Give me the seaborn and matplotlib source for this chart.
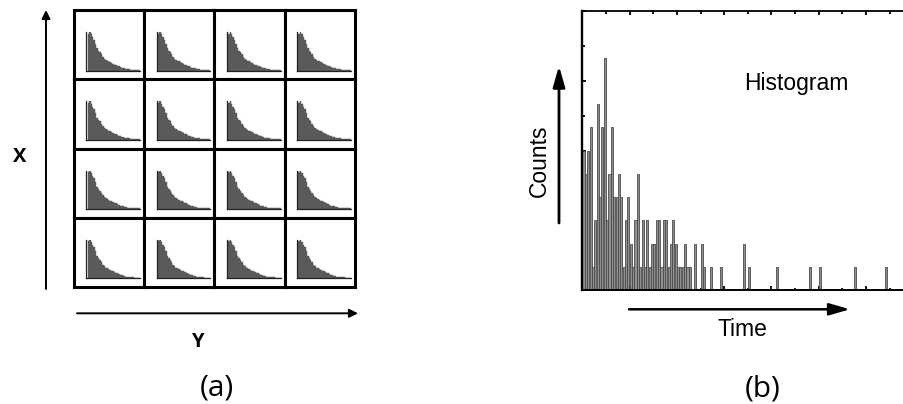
import numpy as np
import pandas as pd
import matplotlib
matplotlib.use("Agg")
import matplotlib.pyplot as plt
from matplotlib.ticker import MultipleLocator, NullFormatter
import seaborn as sns

# ---- data -------------------------------------------------------------
# photon arrival histogram: time-bin index and number of counts in it
time_bins = list(range(46)) + [47, 50, 51, 54, 58, 68, 70, 82, 96, 100, 115, 128]
counts = [6, 5, 6, 7, 1, 3, 8, 4, 7, 10, 3, 5, 7, 4, 4, 5, 4, 1, 3, 4, 2, 1, 3, 5,
          1, 3, 1, 3, 1, 2, 2, 3, 3, 1, 3, 3, 1, 2, 3, 2, 1, 1, 1, 2, 1, 1,
          2, 2, 1, 1, 1, 2, 1, 1, 1, 1, 1, 1]

# decay profile shown in every pixel of the X-Y scan
pixel_counts = [96, 100, 94, 86, 80, 70, 58, 52, 48, 42, 36, 31, 28, 26, 24, 22,
                20, 18, 16, 15, 13, 11, 9, 8, 7, 6, 5, 4, 4, 3, 3, 3, 2, 2, 2, 2]

grid_rows = 4
grid_cols = 4

panel_labels = ["(a)", "(b)"]

# ---- figure -----------------------------------------------------------
sns.set_style("white")
plt.rcParams["text.color"] = "black"
W, H = 904, 404
fig = plt.figure(figsize=(W / 100, H / 100), dpi=100)
fig.patch.set_facecolor("white")


def box(x0, y0, x1, y1):
    """Figure-fraction rect from a pixel box measured from the top-left."""
    return [x0 / W, 1 - y1 / H, (x1 - x0) / W, (y1 - y0) / H]


# ---- (a) grid of pixel histograms ------------------------------------
gx0, gx1, gy0, gy1 = 74, 355, 10, 287
cw = (gx1 - gx0) / grid_cols
ch = (gy1 - gy0) / grid_rows
n_pix = len(pixel_counts)
pix_df = pd.DataFrame({"t": np.arange(n_pix) + 0.5, "n": pixel_counts})

for r in range(grid_rows):
    for c in range(grid_cols):
        cx0 = gx0 + c * cw
        cy0 = gy0 + r * ch
        cell = fig.add_axes(box(cx0, cy0, cx0 + cw, cy0 + ch))
        cell.set_xticks([])
        cell.set_yticks([])
        for s in cell.spines.values():
            s.set_linewidth(2.2)
            s.set_color("black")
        cell.set_facecolor("white")

        mini = fig.add_axes(box(cx0 + 12.3, cy0 + 22, cx0 + 66, cy0 + 60.7))
        sns.histplot(data=pix_df, x="t", weights="n",
                     binwidth=1, binrange=(0, n_pix),
                     color="#5a5a5a", edgecolor="#5a5a5a", linewidth=0.3,
                     alpha=1, ax=mini)
        mini.set_xlim(-0.9, n_pix)
        mini.set_ylim(0, 100)
        mini.set_xticks([])
        mini.set_yticks([])
        mini.set_xlabel("")
        mini.set_ylabel("")
        mini.patch.set_visible(False)
        for side in ("top", "right"):
            mini.spines[side].set_visible(False)
        for side in ("left", "bottom"):
            mini.spines[side].set_linewidth(0.9)
            mini.spines[side].set_linestyle((0, (2, 1)))
            mini.spines[side].set_color("#222222")

# ---- (b) arrival-time histogram --------------------------------------
ax = fig.add_axes(box(582.3, 11, 906.2, 290))
hist_df = pd.DataFrame({"t": np.array(time_bins) + 0.5, "n": counts})
sns.histplot(data=hist_df, x="t", weights="n", binwidth=1, binrange=(0, 137),
             shrink=0.88, color="#909090", edgecolor="#4a4a4a",
             linewidth=0.6, alpha=1, ax=ax)
ax.set_xlim(0, 137)
ax.set_ylim(0, 12)
ax.set_xlabel("")
ax.set_ylabel("")
ax.xaxis.set_major_locator(MultipleLocator(20))
ax.xaxis.set_minor_locator(MultipleLocator(10))
ax.yaxis.set_major_locator(MultipleLocator(3))
ax.yaxis.set_minor_locator(MultipleLocator(1.5))
ax.xaxis.set_major_formatter(NullFormatter())
ax.yaxis.set_major_formatter(NullFormatter())
ax.tick_params(which="both", direction="in", top=True, bottom=True,
               left=True, right=False, labelbottom=False, labelleft=False,
               color="black")
ax.tick_params(which="major", length=3.2, width=1.3)
ax.tick_params(which="minor", length=1.8, width=1.3)
for side, lw in (("left", 1.7), ("bottom", 1.4), ("top", 1.3), ("right", 1.3)):
    ax.spines[side].set_linewidth(lw)
    ax.spines[side].set_color("black")

# ---- annotations in pixel coordinates ---------------------------------
ov = fig.add_axes([0, 0, 1, 1], zorder=10)
ov.set_xlim(0, W)
ov.set_ylim(H, 0)
ov.axis("off")
ov.patch.set_visible(False)


def arrow(tail, tip, lw, hl, hw):
    ov.annotate("", xy=tip, xytext=tail, xycoords="data",
                arrowprops=dict(arrowstyle=f"-|>,head_length={hl},head_width={hw}",
                                lw=lw, color="black", shrinkA=0, shrinkB=0,
                                mutation_scale=10))


arrow((46, 289), (46, 10), 1.4, 0.5, 0.25)
arrow((77, 313.3), (358, 313.3), 1.4, 0.5, 0.25)
arrow((559, 223), (559, 66), 2.0, 1.25, 0.36)
arrow((629, 309.3), (850, 309.3), 1.8, 1.25, 0.36)

lab_font = ["Open Sans", "DejaVu Sans"]
arial = ["Liberation Sans", "DejaVu Sans"]

ov.text(20, 157, "X", ha="center", va="center", fontsize=14.5,
        fontweight="bold", family=lab_font, color="black")
ov.text(197.5, 342, "Y", ha="center", va="center", fontsize=14.5,
        fontweight="bold", family=lab_font, color="black")
ov.text(217, 388, panel_labels[0], ha="center", va="center", fontsize=21.5,
        family=lab_font, color="black")
ov.text(763, 389, panel_labels[1], ha="center", va="center", fontsize=21.5,
        family=lab_font, color="black")

ov.text(744, 90, "Histogram", ha="left", va="baseline", fontsize=16.5,
        family=arial, color="black")
ov.text(742, 336, "Time", ha="center", va="baseline", fontsize=16.5,
        family=arial, color="black")
ov.text(539, 161, "Counts", ha="center", va="center", rotation=90,
        fontsize=16.5, family=arial, color="black")

fig.savefig("out.png", dpi=100, facecolor="white")
